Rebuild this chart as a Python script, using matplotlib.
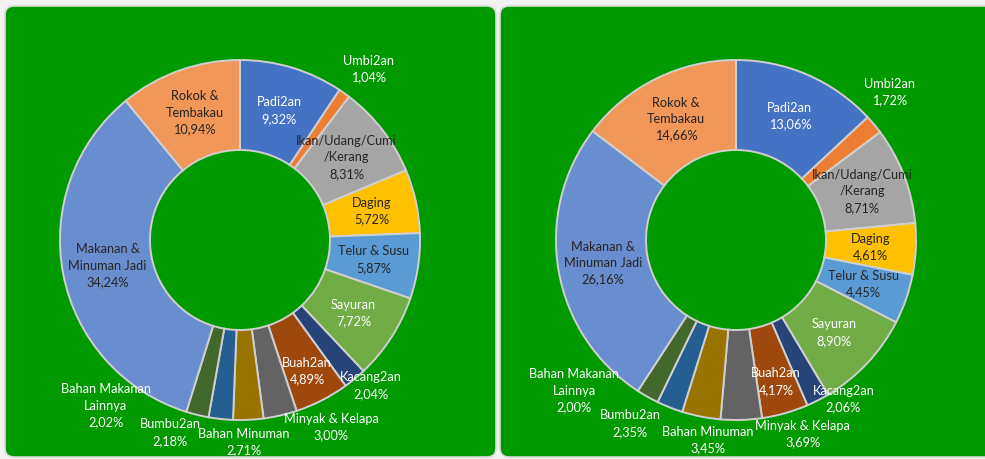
import matplotlib
matplotlib.use('Agg')
import matplotlib.pyplot as plt
from matplotlib.patches import FancyBboxPatch
import numpy as np

plt.rcParams['font.family'] = ['Lato', 'DejaVu Sans']

categories = ['Padi2an', 'Umbi2an', 'Ikan/Udang/Cumi\n/Kerang', 'Daging', 'Telur & Susu',
              'Sayuran', 'Kacang2an', 'Buah2an', 'Minyak & Kelapa', 'Bahan Minuman',
              'Bumbu2an', 'Bahan Makanan\nLainnya', 'Makanan &\nMinuman Jadi', 'Rokok &\nTembakau']
values_left = [9.32, 1.04, 8.31, 5.72, 5.87, 7.72, 2.04, 4.89, 3.00, 2.71, 2.18, 2.02, 34.24, 10.94]
values_right = [13.06, 1.72, 8.71, 4.61, 4.45, 8.90, 2.06, 4.17, 3.69, 3.45, 2.35, 2.00, 26.16, 14.66]

colors = ['#4472C4', '#ED7D31', '#A5A5A5', '#FFC000', '#5B9BD5', '#70AD47', '#264478',
          '#9E480E', '#636363', '#997300', '#255E91', '#43682B', '#698ED0', '#F1975A']
dark = '#262626'
text_colors = ['white', 'white', dark, dark, dark, 'white', 'white', 'white', 'white',
               'white', 'white', 'white', dark, dark]

# label placement for the small slices that get their label outside the ring
# (angle clockwise from 12 o'clock in degrees, distance from centre in px)
outside_left = {1: (37, 214), 6: (138, 196), 8: (154, 208), 9: (179, 202), 10: (200, 205), 11: (219, 213)}
outside_right = {1: (46, 213), 6: (146, 192), 8: (161, 205), 9: (188, 202), 10: (210, 212), 11: (227, 221)}
inner_r = {7: 147}

W, H = 985, 459
fig = plt.figure(figsize=(W / 100, H / 100), dpi=100)
fig.patch.set_facecolor('#f2f2f2')

green = '#009900'
# the two chart areas (rounded boxes), in pixel coords
bg = fig.add_axes([0, 0, 1, 1])
bg.set_xlim(0, W)
bg.set_ylim(H, 0)
bg.axis('off')
for x0, x1 in [(5, 496), (500, 1000)]:
    bg.add_patch(FancyBboxPatch((x0 + 9, 6 + 9), x1 - x0 - 18, 451 - 18,
                                boxstyle='round,pad=9', fc=green, ec='#d9d9d9', lw=1.2))


def donut(cx, cy, values, outside):
    ax = fig.add_axes([0, 0, 1, 1])
    R = 180
    wedges, _ = ax.pie(values, colors=colors, radius=R, startangle=90, counterclock=False,
                       explode=[0.015] * len(values),
                       wedgeprops=dict(width=R * 0.5, edgecolor='#cfcfcf', linewidth=1.4))
    ax.set_xlim(-cx, W - cx)
    ax.set_ylim(-(H - cy), cy)
    ax.set_aspect('auto')
    ax.axis('off')
    cum = np.cumsum([0] + values[:-1])
    total = sum(values)
    for i, (cat, v) in enumerate(zip(categories, values)):
        if i in outside:
            ang, r = outside[i]
        else:
            ang = (cum[i] + v / 2) / total * 360
            r = inner_r.get(i, 135)
        t = np.deg2rad(ang)
        x, y = r * np.sin(t), r * np.cos(t)
        label = cat + '\n' + f'{v:.2f}'.replace('.', ',') + '%'
        ax.text(x, y, label, ha='center', va='center', fontsize=9.2,
                color=text_colors[i], linespacing=1.45)


donut(240, 240, values_left, outside_left)
donut(736, 240, values_right, outside_right)

fig.savefig('out.png', dpi=100)
